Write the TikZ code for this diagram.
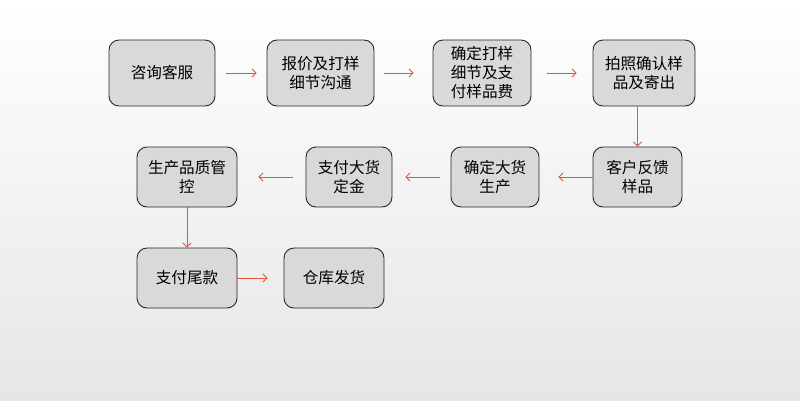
\documentclass[tikz,border=0pt]{standalone}
\usepackage{fontspec}
\usepackage{tikz}
\usetikzlibrary{arrows.meta}
\newfontfamily\cjk{Noto Sans CJK SC}
\definecolor{boxgray}{HTML}{D9D9D9}
\definecolor{flowred}{HTML}{E8533C}
\definecolor{bgbottom}{HTML}{E6E6E6}
\definecolor{bgmid}{HTML}{F8F8F8}

\begin{document}
\begin{tikzpicture}[x=1pt,y=-1pt,
  procbox/.style={draw=black!85, line width=0.9pt, fill=boxgray, rounded corners=10pt,
    align=center, inner sep=2pt, font=\cjk\fontsize{15.6}{19}\selectfont},
  flow/.style={draw=flowred, line width=0.8pt, -{Straight Barb[length=4pt,width=8pt]}}]
\shade[top color=white, middle color=bgmid, bottom color=bgbottom] (0,0) rectangle (800,400);
\useasboundingbox (0,0) rectangle (800,400);
% first row
\node[procbox, minimum width=106pt, minimum height=66pt] (kefu) at (162,73) {咨询客服};
\node[procbox, minimum width=107pt, minimum height=66pt] (baojia) at (320.5,73) {报价及打样\\细节沟通};
\node[procbox, minimum width=98pt, minimum height=66pt] (yangpin) at (482,73) {确定打样\\细节及支\\付样品费};
\node[procbox, minimum width=102pt, minimum height=66pt] (paizhao) at (644,73) {拍照确认样\\品及寄出};
% second row
\node[procbox, minimum width=89pt, minimum height=60pt] (fankui) at (637.5,177) {客户反馈\\样品};
\node[procbox, minimum width=88pt, minimum height=60pt] (dahuo) at (495,177) {确定大货\\生产};
\node[procbox, minimum width=86pt, minimum height=60pt] (dingjin) at (349,177) {支付大货\\定金};
\node[procbox, minimum width=100pt, minimum height=60pt] (pinzhi) at (187,177) {生产品质管\\控};
% third row
\node[procbox, minimum width=100pt, minimum height=60pt] (weikuan) at (187,278) {支付尾款};
\node[procbox, minimum width=100pt, minimum height=60pt] (fahuo) at (334,278) {仓库发货};
% arrows
\draw[flow, shorten <=11pt, shorten >=10pt] (kefu) -- (baojia);
\draw[flow, shorten <=10pt, shorten >=19pt] (baojia) -- (yangpin);
\draw[flow, shorten <=16pt, shorten >=16pt] (yangpin) -- (paizhao);
\draw[flow] (fankui |- paizhao.south) -- (fankui.north);
\draw[flow, shorten >=19pt] (fankui) -- (dahuo);
\draw[flow, shorten <=11pt, shorten >=13pt] (dahuo) -- (dingjin);
\draw[flow, shorten <=13pt, shorten >=21pt] (dingjin) -- (pinzhi);
\draw[flow] (pinzhi) -- (weikuan);
\draw[flow, shorten >=16pt] (weikuan) -- (fahuo);
\end{tikzpicture}
\end{document}
